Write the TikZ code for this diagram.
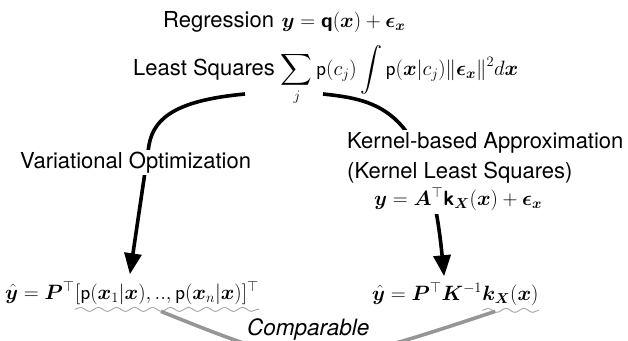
\documentclass[tikz,border=0pt]{standalone}
\usepackage{amsmath,amssymb,bm}
\usepackage[no-math]{fontspec}
\setmainfont{TeX Gyre Heros}
\usetikzlibrary{arrows.meta,decorations.pathmorphing}

\definecolor{wavegray}{RGB}{165,165,165}
\definecolor{linkgray}{RGB}{150,150,150}

\begin{document}
\begin{tikzpicture}[
    x=1pt, y=-1pt,
    txt/.style={font=\fontsize{22}{26}\selectfont, inner sep=0pt, anchor=base west},
    lbl/.style={txt, fill=white, inner sep=2pt},
    flow/.style={-{Triangle[length=21pt,width=17pt]}, line width=3.6pt},
    wavy/.style={draw=wavegray, line width=0.9pt, decorate, decoration={snake, segment length=18pt, amplitude=2pt}},
    link/.style={draw=linkgray, line width=3.6pt}
]
\useasboundingbox (0,0) rectangle (628,340);

% top lines
\node[txt] (reg) at (163,27) {Regression\hspace{0.35em}$\bm{y} = \bm{\mathsf{q}}(\bm{x}) + \bm{\epsilon}_{\bm{x}}$};
\node[txt] (lsq) at (133,75) {Least Squares $\displaystyle\sum_j \mathsf{p}(c_j)\int \mathsf{p}(\bm{x}|c_j)\|\bm{\epsilon}_{\bm{x}}\|^2 d\bm{x}$};

% results
\node[txt] (resLa) at (5,299) {$\hat{\bm{y}} = \bm{P}^{\top}$};
\node[txt] (resLb) at (resLa.base east) {$[\mathsf{p}(\bm{x}_1|\bm{x}), .., \mathsf{p}(\bm{x}_n|\bm{x})]^{\top}$};
\node[txt] (resRa) at (372,300) {$\hat{\bm{y}} = \bm{P}^{\top}\bm{K}^{-1}$};
\node[txt] (resRb) at (resRa.base east) {$\bm{k}_{\bm{X}}(\bm{x})$};

% the two branches
\coordinate (sumL) at (245,94);
\coordinate (sumR) at (323,94);
\coordinate (bendL) at (149,145);
\draw[flow] (sumL) .. controls (180,100) and (154,116) .. (bendL) -- ([xshift=-37pt,yshift=7pt]resLb.north);
\draw[flow] (sumR) .. controls (380,100) and (428,110) .. ([xshift=17pt,yshift=6pt]resRa.north);

% labels on the branches
\node[lbl] (varopt) at (18,168) {Variational Optimization};
\node[lbl, align=left, anchor=north west, font=\fontsize{22}{30}\selectfont] (kern) at (345,130) {Kernel-based Approximation\\(Kernel Least Squares)};
\node[lbl, inner sep=4pt] (kform) at (370,205) {$\bm{y} = \bm{A}^{\top}\bm{\mathsf{k}}_{\bm{X}}(\bm{x}) + \bm{\epsilon}_{\bm{x}}$};

% comparable
\draw[wavy] ([yshift=-5pt]resLb.south west) -- ([yshift=-5pt]resLb.south east);
\draw[wavy] ([yshift=-5pt]resRb.south west) -- ([yshift=-5pt]resRb.south east);
\coordinate (cmpL) at ([xshift=-6pt,yshift=-7pt]resLb.south);
\coordinate (cmpR) at ([xshift=13pt,yshift=-6pt]resRb.south west);
\draw[link] (cmpL) .. controls (312,372) .. (cmpR);
\node[lbl, font=\fontsize{22.5}{26}\selectfont\itshape, inner sep=1pt] (cmp) at (246,335) {Comparable};

\end{tikzpicture}
\end{document}
